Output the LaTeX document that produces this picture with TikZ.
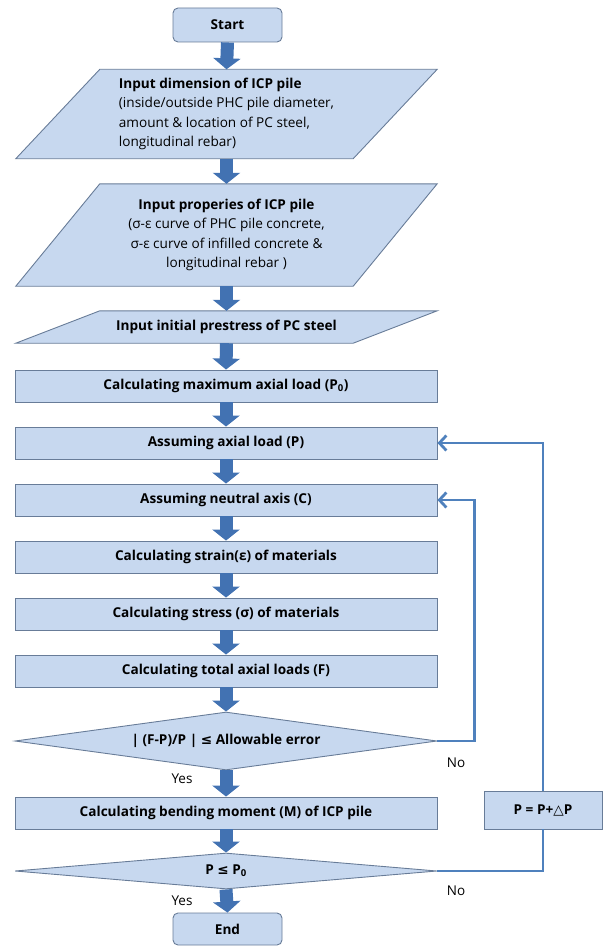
\documentclass[tikz,border=0pt]{standalone}
\usepackage{fontspec}
\setmainfont{Open Sans}
\newfontfamily\symfont{DejaVu Sans}
\usetikzlibrary{arrows.meta,shapes.geometric,backgrounds}
\definecolor{boxfill}{RGB}{199,216,239}
\definecolor{boxline}{RGB}{104,124,152}
\definecolor{flowblue}{RGB}{66,114,178}
\definecolor{loopblue}{RGB}{79,129,189}
\newcommand\boxfont{\fontsize{13.6}{19.5}\selectfont}

\begin{document}
\begin{tikzpicture}[x=1pt, y=-1pt,
  font=\boxfont,
  box/.style={draw=boxline, fill=boxfill, line width=0.9pt, minimum width=422pt, minimum height=32pt, inner sep=2pt, font=\boxfont\bfseries},
  term/.style={box, rounded corners=5pt, minimum width=109pt, minimum height=34pt},
  slant/.style={minimum width=421pt, inner sep=0pt, font=\boxfont},
  dec/.style={box, diamond, aspect=8, inner sep=0pt},
  flow/.style={line width=13pt, draw=flowblue, -{Triangle[length=11pt,width=27pt]}},
  backline/.style={draw=loopblue, line width=2.8pt},
  back/.style={backline, -{Straight Barb[length=7pt,width=15pt]}},
  lbl/.style={font=\fontsize{13.5}{16}\selectfont}
]
\useasboundingbox (0,0) rectangle (606,947);

% main column
\node[term] (start) at (227.5,25) {Start};
\node[slant, minimum height=89pt, align=left] (dim) at (226.5,114)
  {\textbf{Input dimension of ICP pile}\\(inside/outside PHC pile diameter,\\amount \& location of PC steel,\\longitudinal rebar)};
\node[slant, minimum height=102pt, align=center] (prop) at (226.5,235)
  {\textbf{Input properies of ICP pile}\\(σ-ε curve of PHC pile concrete,\\σ-ε curve of infilled concrete \&\\longitudinal rebar )};
\node[slant, minimum height=32pt, font=\boxfont\bfseries] (pre) at (226.5,327) {Input initial prestress of PC steel};
\node[box] (pmax) at (226,386) {Calculating maximum axial load (P\textsubscript{0})};
\node[box] (load) at (226,443) {Assuming axial load (P)};
\node[box] (axis) at (226,500) {Assuming neutral axis (C)};
\node[box] (strain) at (226,557) {Calculating strain(ε) of materials};
\node[box] (stress) at (226,614) {Calculating stress (σ) of materials};
\node[box] (total) at (226,671) {Calculating total axial loads (F)};
\node[dec, minimum height=58pt] (chk) at (226,741) {| (F-P)/P | {\symfont ≤} Allowable error};
\node[box] (bend) at (226,813) {Calculating bending moment (M) of ICP pile};
\node[dec, minimum height=36pt] (cmp) at (226,871) {P {\symfont ≤} P\textsubscript{0}};
\node[term, minimum height=32pt] (end) at (227.5,929) {End};
\node[box, minimum width=118pt, minimum height=38pt] (inc) at (543,810) {P = P+{\symfont △}P};

% slanted input boxes
\begin{scope}[on background layer]
\foreach \n in {dim,prop,pre}
  \draw[draw=boxline, fill=boxfill, line width=0.9pt] ([xshift=84pt]\n.north west) -- (\n.north east)
    -- ([xshift=-84pt]\n.south east) -- (\n.south west) -- cycle;
\end{scope}

% flow arrows
\foreach \a/\b in {start/dim,dim/prop,prop/pre,pre/pmax,pmax/load,load/axis,axis/strain,strain/stress,stress/total,total/chk,chk/bend,bend/cmp,cmp/end}
  \draw[flow] (\a.south) -- (\b.north);

% loops
\draw[back] (chk.east) -- ++(37,0) |- (axis.east);
\draw[backline] (cmp.east) -| (inc.south);
\draw[back] (inc.north) |- (load.east);

\node[lbl] (yes1) at (182,779) {Yes};
\node[lbl] (no1) at (456,763) {No};
\node[lbl] (yes2) at (182,901) {Yes};
\node[lbl] (no2) at (456,891) {No};
\end{tikzpicture}
\end{document}
